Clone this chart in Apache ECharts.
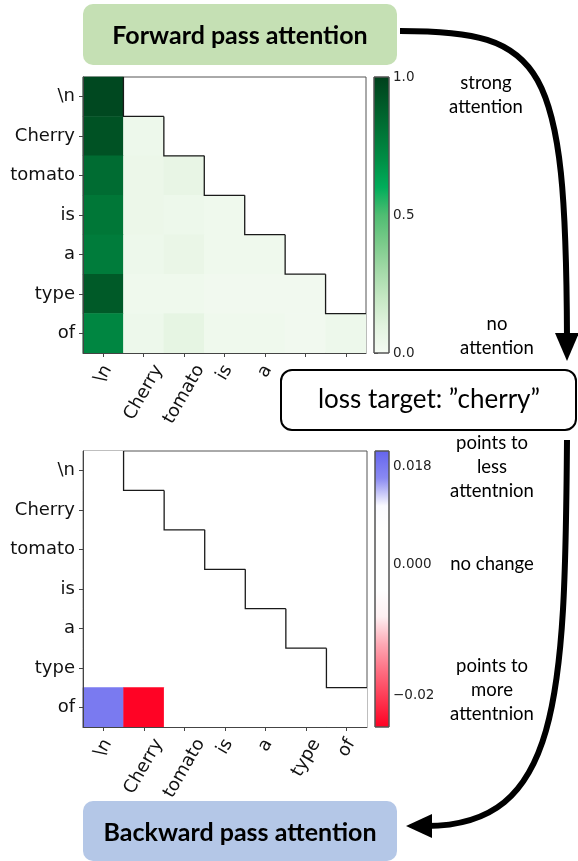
<!DOCTYPE html>
<html>
<head>
<meta charset="utf-8">
<script src="https://cdn.jsdelivr.net/npm/echarts@6/dist/echarts.min.js"></script>
<style>
  html, body { margin: 0; padding: 0; background: #fff; }
  #attn-fig { width: 578px; height: 861px; }
</style>
</head>
<body>
<div id="attn-fig"></div>
<script>
// tokens on both axes
const tokens = ['\\n', 'Cherry', 'tomato', 'is', 'a', 'type', 'of']
// the top plot only shows the first five x labels (the rest sit under the loss box)
const fwdXLabelCount = 5

// forward pass attention, lower triangle (row = query token)
const fwdRows = [
  [0.97],
  [0.93, 0.04],
  [0.83, 0.05, 0.07],
  [0.79, 0.05, 0.04, 0.03],
  [0.77, 0.04, 0.06, 0.03, 0.03],
  [0.90, 0.03, 0.03, 0.02, 0.02, 0.02],
  [0.73, 0.04, 0.08, 0.03, 0.03, 0.02, 0.04],
]

// backward pass (gradient) attention, lower triangle
const bwdRows = [
  [0],
  [0, 0],
  [0, 0, 0],
  [0, 0, 0, 0],
  [0, 0, 0, 0, 0],
  [0, 0, 0, 0, 0, 0],
  [0.018, -0.0295, 0, 0, 0, 0, 0],
]

// colour scale ranges and tick labels
const fwdRange = [0, 1]
const fwdTicks = [0, 0.5, 1]
const fwdTickLabels = ['0.0', '0.5', '1.0']
const bwdRange = [-0.0298, 0.0209]
const bwdTicks = [-0.024, 0, 0.018]
const bwdTickLabels = ['\u22120.02', '0.000', '0.018']

const greens = ['#f5fbf3', '#e2f3df', '#c6e8c4', '#a3d9a8', '#7acb8a', '#4fbd72',
  '#00ad5a', '#008e45', '#007436', '#005a28', '#00401c']
const bwr = ['#ff0022', '#ff3650', '#ff6c80', '#ffa8b4', '#fff0f2', '#ffffff',
  '#ffffff', '#ffffff', '#fafaff', '#8a8af2', '#6464ee']

const toCells = rows => rows.flatMap((row, r) => row.map((v, c) => [c, r, v]))
// one stair step per row that has masked cells to its right
const stairs = tokens.slice(0, -1).map((t, r) => [r + 1, r])

const tickFont = 'DejaVu Sans'
const tickSize = 18
const noteFont = 'Lato'

const heatX = (gi) => ({
  type: 'category', gridIndex: gi, data: tokens, z: 5,
  axisLine: { show: true, lineStyle: { color: '#444', width: 1 } },
  axisTick: { show: true, alignWithLabel: true, interval: 0, length: 4, lineStyle: { color: '#444' } },
  // x labels are placed below (centred under the tick, like matplotlib)
  axisLabel: { show: false },
  splitLine: { show: false }, splitArea: { show: false },
})
const heatY = (gi) => ({
  type: 'category', gridIndex: gi, data: tokens, inverse: true, z: 5,
  axisLine: { show: true, lineStyle: { color: '#444', width: 1 } },
  axisTick: { show: true, alignWithLabel: true, interval: 0, length: 4, lineStyle: { color: '#444' } },
  axisLabel: { interval: 0, margin: 8, fontSize: tickSize, color: '#111', fontFamily: tickFont },
  splitLine: { show: false }, splitArea: { show: false },
})
const barX = (gi) => ({ type: 'value', gridIndex: gi, min: 0, max: 1, show: false })
const barY = (gi, range, ticks, labels) => ({
  type: 'value', gridIndex: gi, min: range[0], max: range[1], position: 'right',
  axisLine: { show: false },
  splitLine: { show: false },
  axisTick: { show: true, customValues: ticks, length: 4, lineStyle: { color: '#444' } },
  axisLabel: {
    customValues: ticks, margin: 4, fontSize: 13.5, color: '#222', fontFamily: tickFont,
    formatter: v => labels[ticks.indexOf(v)],
  },
})

const stairSeries = (gi) => ({
  type: 'custom', xAxisIndex: gi, yAxisIndex: gi, clip: false, z: 4,
  data: stairs,
  renderItem: (params, api) => {
    const c = api.coord([api.value(0), api.value(1)])
    const s = api.size([1, 1])
    const left = c[0] - s[0] / 2, top = c[1] - s[1] / 2
    return {
      type: 'polyline',
      shape: { points: [[left, top], [left, top + s[1]], [left + s[0], top + s[1]]] },
      style: { stroke: '#1a1a1a', lineWidth: 1.3, fill: null },
    }
  },
})

const colorBarSeries = (gi, range, colors) => ({
  type: 'custom', xAxisIndex: gi, yAxisIndex: gi, clip: false, silent: true,
  data: [[0, 1, range[0], range[1]]],
  renderItem: (params, api) => {
    const p0 = api.coord([api.value(0), api.value(2)])
    const p1 = api.coord([api.value(1), api.value(3)])
    return {
      type: 'rect',
      shape: { x: p0[0], y: p1[1], width: p1[0] - p0[0], height: p0[1] - p1[1] },
      style: {
        fill: new echarts.graphic.LinearGradient(0, 1, 0, 0,
          colors.map((col, i) => ({ offset: i / (colors.length - 1), color: col }))),
        stroke: '#555', lineWidth: 1,
      },
    }
  },
})

const label = (text, x, y, size, weight, lh) => ({
  type: 'text', z: 110,
  style: {
    text, x, y, fill: '#000', fontSize: size, fontWeight: weight || 'normal', fontFamily: noteFont,
    lineHeight: lh || size * 1.25, textAlign: 'center', textVerticalAlign: 'middle',
    align: 'center', verticalAlign: 'middle',
  },
})

var chart = echarts.init(document.getElementById('attn-fig'), null, { renderer: 'canvas' })
chart.setOption({
  animation: false,
  backgroundColor: '#fff',
  grid: [
    { left: 83, top: 77, width: 283, height: 276, show: true, borderColor: '#555', borderWidth: 1 },
    { left: 374, top: 77, width: 15, height: 276 },
    { left: 83, top: 451, width: 284, height: 276, show: true, borderColor: '#555', borderWidth: 1 },
    { left: 375, top: 451, width: 14, height: 276 },
  ],
  xAxis: [heatX(0), barX(1), heatX(2), barX(3)],
  yAxis: [
    heatY(0),
    barY(1, fwdRange, fwdTicks, fwdTickLabels),
    heatY(2),
    barY(3, bwdRange, bwdTicks, bwdTickLabels),
  ],
  visualMap: [
    { type: 'continuous', show: false, seriesIndex: 0, min: fwdRange[0], max: fwdRange[1], inRange: { color: greens } },
    { type: 'continuous', show: false, seriesIndex: 1, min: bwdRange[0], max: bwdRange[1], inRange: { color: bwr } },
  ],
  series: [
    { type: 'heatmap', xAxisIndex: 0, yAxisIndex: 0, data: toCells(fwdRows), itemStyle: { borderWidth: 0 } },
    { type: 'heatmap', xAxisIndex: 2, yAxisIndex: 2, data: toCells(bwdRows), itemStyle: { borderWidth: 0 } },
    stairSeries(0),
    stairSeries(2),
    colorBarSeries(1, fwdRange, greens),
    colorBarSeries(3, bwdRange, bwr),
  ],
})

// rotated x labels: the rotated box is centred on the tick and hangs below the axis
const measure = document.createElement('canvas').getContext('2d')
measure.font = tickSize + 'px "' + tickFont + '"'
const rot = Math.PI / 3
const xLabels = (gi, count) => {
  const last = chart.convertToPixel({ yAxisIndex: gi }, tokens[tokens.length - 1])
  const prev = chart.convertToPixel({ yAxisIndex: gi }, tokens[tokens.length - 2])
  const axisY = last + (last - prev) / 2
  return tokens.slice(0, count).map(t => {
    const len = measure.measureText(t).width
    const boxH = len * Math.sin(rot) + tickSize * Math.cos(rot)
    return {
      type: 'text', z: 50,
      x: chart.convertToPixel({ xAxisIndex: gi }, t),
      y: axisY + 9 + boxH / 2,
      rotation: rot,
      style: {
        text: t, fill: '#111', fontSize: tickSize, fontFamily: tickFont,
        align: 'center', verticalAlign: 'middle', textAlign: 'center', textVerticalAlign: 'middle',
      },
    }
  })
}

chart.setOption({
  graphic: [
    ...xLabels(0, fwdXLabelCount),
    ...xLabels(2, tokens.length),
    // header boxes
    { type: 'rect', z: 100, shape: { x: 83, y: 4, width: 314, height: 61, r: 10 }, style: { fill: '#c5e0b4' } },
    label('Forward pass attention', 240, 36, 25, 'bold'),
    { type: 'rect', z: 100, shape: { x: 83, y: 801, width: 314, height: 60, r: 10 }, style: { fill: '#b4c7e7' } },
    label('Backward pass attention', 240, 833, 25, 'bold'),
    { type: 'rect', z: 100, shape: { x: 281, y: 370, width: 295, height: 60, r: 11 }, style: { fill: '#fff', stroke: '#000', lineWidth: 2 } },
    label('loss target: \u201dcherry\u201d', 429, 400, 26),
    // side notes
    label('strong\nattention', 486, 95, 18.5, 'normal', 24),
    label('no\nattention', 497, 336, 18.5, 'normal', 24),
    label('points to\nless\nattentnion', 492, 467, 18.5, 'normal', 24),
    label('no change', 492, 564, 18.5),
    label('points to\nmore\nattentnion', 492, 690, 18.5, 'normal', 24),
    // arrows
    {
      type: 'bezierCurve', z: 105,
      shape: { x1: 400, y1: 31, cpx1: 545, cpy1: 31, cpx2: 566, cpy2: 60, x2: 567, y2: 338 },
      style: { stroke: '#000', lineWidth: 6, fill: null },
    },
    { type: 'polygon', z: 105, shape: { points: [[555, 333], [579, 333], [567, 361]] }, style: { fill: '#000' } },
    {
      type: 'bezierCurve', z: 105,
      shape: { x1: 567, y1: 440, cpx1: 565, cpy1: 700, cpx2: 560, cpy2: 826, x2: 426, y2: 826 },
      style: { stroke: '#000', lineWidth: 6, fill: null },
    },
    { type: 'polygon', z: 105, shape: { points: [[406, 826], [432, 814], [432, 838]] }, style: { fill: '#000' } },
  ],
})
</script>
</body>
</html>
